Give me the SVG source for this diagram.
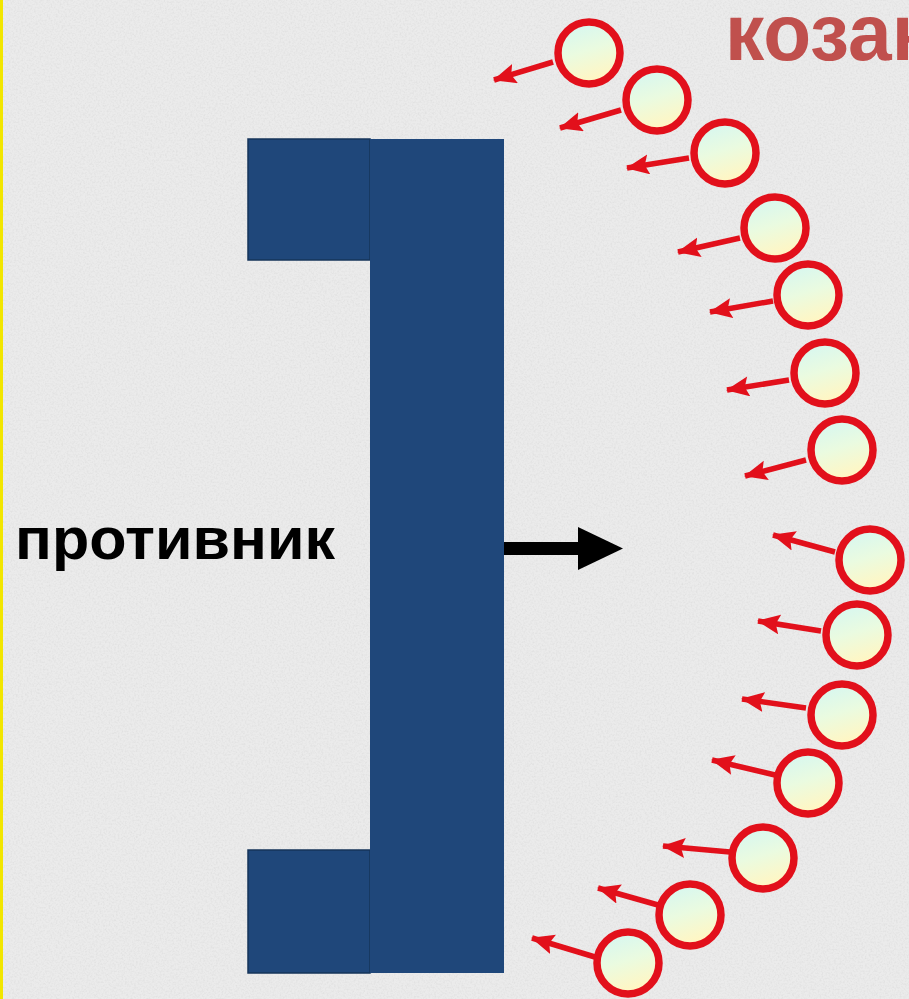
<svg xmlns="http://www.w3.org/2000/svg" width="909" height="999" viewBox="0 0 909 999">
  <defs>
    <style>
      .ball { fill: url(#ballFill); stroke: #e2101b; stroke-width: 7.5; }
      .ra { stroke: #e2101b; stroke-width: 5.5; fill: none; marker-end: url(#redHead); }
      .blue { fill: #1f477a; }
      .blueEdge { fill: #1f477a; stroke: #16345a; stroke-width: 1.5; }
    </style>
    <linearGradient id="ballFill" x1="0" y1="0" x2="0.3" y2="1">
      <stop offset="0" stop-color="#d2f6f4"/>
      <stop offset="0.55" stop-color="#eafbe0"/>
      <stop offset="1" stop-color="#fff6c4"/>
    </linearGradient>
    <marker id="redHead" markerUnits="userSpaceOnUse" markerWidth="26" markerHeight="22" refX="22" refY="10" orient="auto">
      <path d="M0,0 L23,10 L0,20 L4,10 z" fill="#e2101b"/>
    </marker>
    <filter id="noise" x="0" y="0" width="100%" height="100%">
      <feTurbulence type="fractalNoise" baseFrequency="0.55" numOctaves="2" seed="3"/>
      <feColorMatrix type="matrix" values="0 0 0 0 0.55  0 0 0 0 0.55  0 0 0 0 0.55  0 0 0 1.1 -0.45"/>
    </filter>
  </defs>

  <g id="background">
    <rect x="0" y="0" width="909" height="999" fill="#ebebeb"/>
    <rect x="0" y="0" width="909" height="999" filter="url(#noise)" opacity="0.5"/>
    <rect x="0" y="0" width="3" height="999" fill="#f2e600"/>
  </g>

  <g id="title">
    <text x="725" y="60" font-family="Liberation Sans, Arial, sans-serif" font-weight="bold" font-size="80" fill="#c0504d" textLength="206" lengthAdjust="spacingAndGlyphs">козак</text>
  </g>

  <g id="enemy">
    <rect class="blueEdge" x="248" y="139" width="122" height="121"/>
    <rect class="blueEdge" x="248" y="850" width="122" height="123"/>
    <rect class="blue" x="370" y="139" width="134" height="834"/>
    <text x="15" y="559" font-family="Liberation Sans, Arial, sans-serif" font-weight="bold" font-size="60" fill="#000" textLength="320" lengthAdjust="spacingAndGlyphs">противник</text>
  </g>

  <g id="connectors">
    <g id="enemy-advance">
      <rect x="504" y="542" width="76" height="13" fill="#000"/>
      <path d="M578,527 L623,548.5 L578,570 z" fill="#000"/>
    </g>
    <line class="ra" x1="553" y1="62" x2="494" y2="80"/>
    <line class="ra" x1="621" y1="110" x2="560" y2="128"/>
    <line class="ra" x1="689" y1="158" x2="627" y2="168"/>
    <line class="ra" x1="740" y1="238" x2="678" y2="252"/>
    <line class="ra" x1="773" y1="301" x2="710" y2="312"/>
    <line class="ra" x1="789" y1="380" x2="727" y2="390"/>
    <line class="ra" x1="806" y1="460" x2="745" y2="476"/>
    <line class="ra" x1="835" y1="552" x2="773" y2="535"/>
    <line class="ra" x1="821" y1="631" x2="758" y2="621"/>
    <line class="ra" x1="806" y1="708" x2="742" y2="699"/>
    <line class="ra" x1="775" y1="775" x2="712" y2="760"/>
    <line class="ra" x1="730" y1="852" x2="663" y2="846"/>
    <line class="ra" x1="658" y1="905" x2="598" y2="888"/>
    <line class="ra" x1="595" y1="957" x2="532" y2="938"/>
  </g>

  <g id="cossack-1"><circle class="ball" cx="589" cy="53" r="31"/></g>
  <g id="cossack-2"><circle class="ball" cx="657" cy="100" r="31"/></g>
  <g id="cossack-3"><circle class="ball" cx="725" cy="153" r="31"/></g>
  <g id="cossack-4"><circle class="ball" cx="775" cy="228" r="31"/></g>
  <g id="cossack-5"><circle class="ball" cx="808" cy="295" r="31"/></g>
  <g id="cossack-6"><circle class="ball" cx="825" cy="373" r="31"/></g>
  <g id="cossack-7"><circle class="ball" cx="842" cy="450" r="31"/></g>
  <g id="cossack-8"><circle class="ball" cx="870" cy="560" r="31"/></g>
  <g id="cossack-9"><circle class="ball" cx="857" cy="635" r="31"/></g>
  <g id="cossack-10"><circle class="ball" cx="842" cy="715" r="31"/></g>
  <g id="cossack-11"><circle class="ball" cx="808" cy="783" r="31"/></g>
  <g id="cossack-12"><circle class="ball" cx="763" cy="858" r="31"/></g>
  <g id="cossack-13"><circle class="ball" cx="690" cy="915" r="31"/></g>
  <g id="cossack-14"><circle class="ball" cx="628" cy="963" r="31"/></g>
</svg>
